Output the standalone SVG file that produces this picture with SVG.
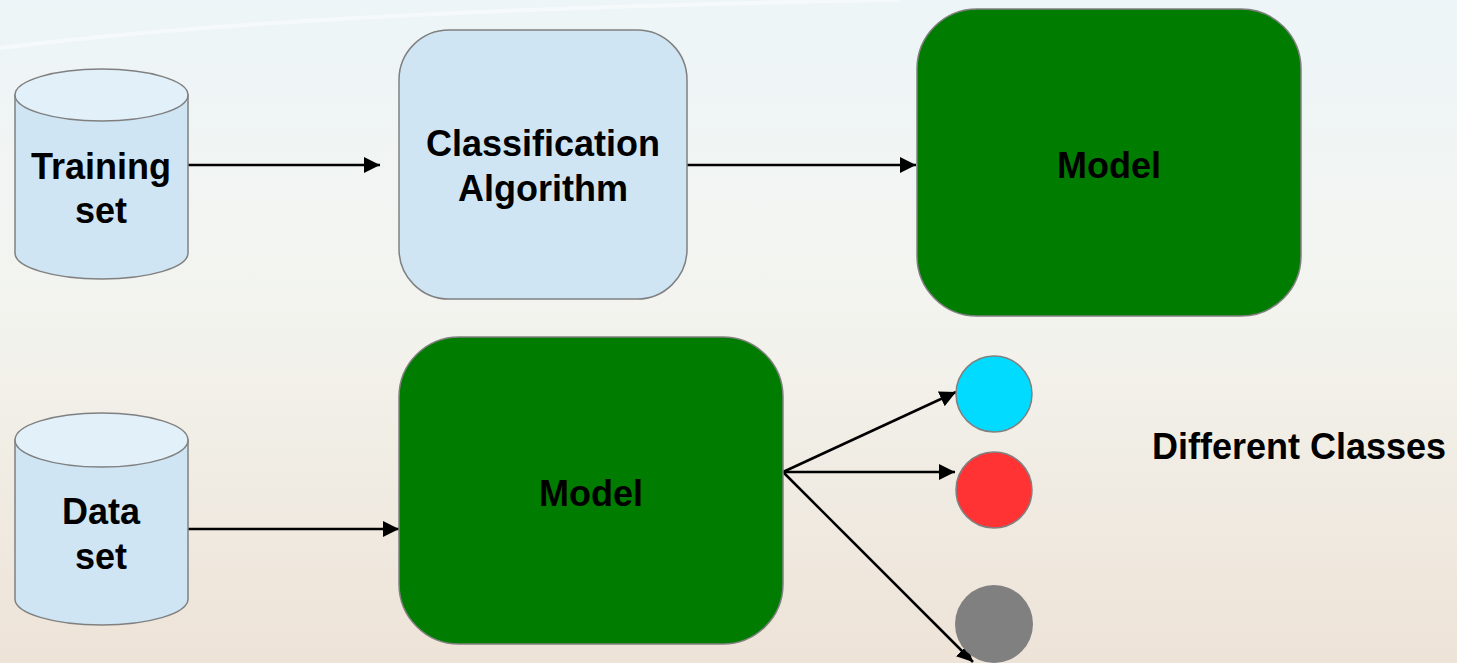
<svg xmlns="http://www.w3.org/2000/svg" width="1457" height="663" viewBox="0 0 1457 663">
  <defs>
    <linearGradient id="bg" x1="0" y1="0" x2="0" y2="1">
      <stop offset="0" stop-color="#edf5f8"/>
      <stop offset="0.45" stop-color="#f3f4ef"/>
      <stop offset="0.75" stop-color="#f0ebe2"/>
      <stop offset="1" stop-color="#eee3d7"/>
    </linearGradient>
    <marker id="arrow" viewBox="0 0 10 10" refX="10" refY="5" markerWidth="6.5" markerHeight="6.5" markerUnits="strokeWidth" orient="auto">
      <path d="M0,0 L10,5 L0,10 Z" fill="#000"/>
    </marker>
    <style>
      .lbl { font-family: "Liberation Sans", Arial, sans-serif; font-weight: bold; font-size: 36px; fill: #000; text-anchor: middle; }
      .db { fill: #cfe5f4; stroke: #808080; stroke-width: 1.5; }
      .dbtop { fill: #e2f0f9; stroke: #808080; stroke-width: 1.5; }
      .algo { fill: #cfe5f4; stroke: #808080; stroke-width: 1.5; }
      .model { fill: #007c00; stroke: #808080; stroke-width: 1.5; }
      .edge { stroke: #000; stroke-width: 2.5; fill: none; marker-end: url(#arrow); }
      .cls { stroke: #808080; stroke-width: 1.5; }
    </style>
  </defs>

  <!-- backdrop -->
  <rect x="0" y="0" width="1457" height="663" fill="url(#bg)"/>
  <path d="M0,48 Q300,10 900,0" stroke="#ffffff" stroke-width="4" fill="none" opacity="0.45"/>

  <!-- connectors -->
  <g id="connectors">
    <line class="edge" x1="188" y1="165" x2="380" y2="165"/>
    <line class="edge" x1="687" y1="165" x2="916" y2="165"/>
    <line class="edge" x1="188" y1="529" x2="399" y2="529"/>
    <line class="edge" x1="783" y1="472" x2="956" y2="392"/>
    <line class="edge" x1="783" y1="472" x2="955" y2="472"/>
    <line class="edge" x1="783" y1="472" x2="973" y2="662"/>
  </g>

  <!-- training set store -->
  <g id="training-set">
    <path class="db" d="M15,95 L15,253 A86.5,26 0 0 0 188,253 L188,95 Z"/>
    <ellipse class="dbtop" cx="101.5" cy="95" rx="86.5" ry="26"/>
    <text class="lbl" x="101" y="179">Training</text>
    <text class="lbl" x="101" y="223">set</text>
  </g>

  <!-- classification algorithm -->
  <g id="classification-algorithm">
    <rect class="algo" x="399" y="30" width="288" height="269" rx="50" ry="50"/>
    <text class="lbl" x="543" y="156">Classification</text>
    <text class="lbl" x="543" y="201">Algorithm</text>
  </g>

  <!-- trained model -->
  <g id="model-train">
    <rect class="model" x="917" y="9" width="384" height="307" rx="60" ry="60"/>
    <text class="lbl" x="1109" y="178">Model</text>
  </g>

  <!-- data set store -->
  <g id="data-set">
    <path class="db" d="M15,440 L15,599 A86.5,26 0 0 0 188,599 L188,440 Z"/>
    <ellipse class="dbtop" cx="101.5" cy="440" rx="86.5" ry="27"/>
    <text class="lbl" x="101" y="524">Data</text>
    <text class="lbl" x="101" y="569">set</text>
  </g>

  <!-- applied model -->
  <g id="model-apply">
    <rect class="model" x="399" y="337" width="384" height="307" rx="60" ry="60"/>
    <text class="lbl" x="591" y="506">Model</text>
  </g>

  <!-- output classes -->
  <g id="class-a"><circle class="cls" cx="994" cy="394" r="38" fill="#00dbff"/></g>
  <g id="class-b"><circle class="cls" cx="994" cy="490" r="38" fill="#ff3333"/></g>
  <g id="class-c"><circle cx="994" cy="624" r="39" fill="#808080"/></g>

  <g id="classes-label">
    <text class="lbl" x="1299" y="459">Different Classes</text>
  </g>
</svg>
